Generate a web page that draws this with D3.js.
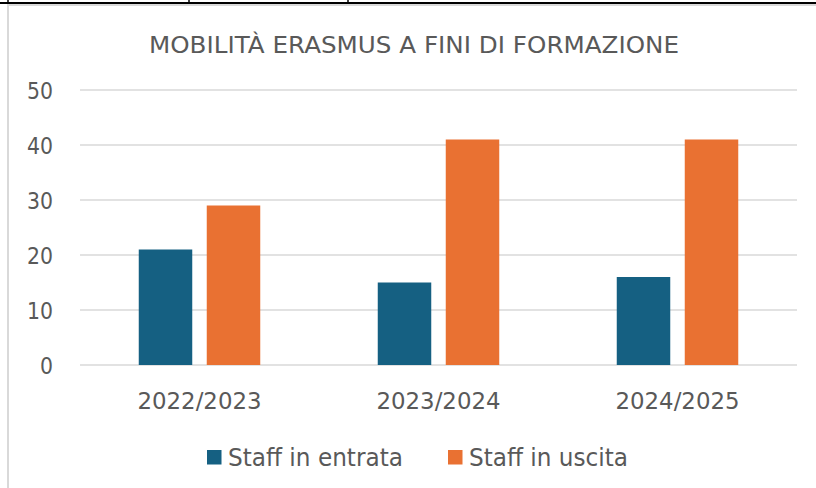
<!DOCTYPE html>
<html>
<head>
<meta charset="utf-8">
<script src="https://cdn.jsdelivr.net/npm/d3@7"></script>
<style>
  body { margin: 0; background: #fff; }
  text { font-family: "DejaVu Sans", Verdana, sans-serif; fill: #595959; }
</style>
</head>
<body>
<div id="chart"></div>
<script>
// data
var years = ['2022/2023', '2023/2024', '2024/2025'];
var seriesNames = ['Staff in entrata', 'Staff in uscita'];
var entrata = [21, 15, 16];
var uscita = [29, 41, 41];
var yTicks = [0, 10, 20, 30, 40, 50];

var width = 816, height = 488;
var colors = ['#156082', '#E97132'];

var svg = d3.select('#chart').append('svg')
    .attr('width', width)
    .attr('height', height);

// table border remains at the top of the page
svg.append('line')
    .attr('x1', 0).attr('x2', width)
    .attr('y1', 3).attr('y2', 3)
    .attr('stroke', '#000').attr('stroke-width', 2);
[8, 189, 348].forEach(function(x){
  svg.append('line')
    .attr('x1', x).attr('x2', x)
    .attr('y1', 0).attr('y2', 3)
    .attr('stroke', '#000').attr('stroke-width', 1.5);
});

// chart frame
svg.append('rect')
    .attr('x', 8).attr('y', 5)
    .attr('width', width + 10).attr('height', height + 10)
    .attr('fill', '#fff')
    .attr('stroke', '#d9d9d9').attr('stroke-width', 2);

//scales
var x0 = d3.scaleBand()
    .domain(years)
    .range([80, 797]);

var y = d3.scaleLinear()
    .domain([0, 50])
    .range([365, 90]);

//gridlines
svg.selectAll('.grid')
    .data(yTicks)
  .enter().append('line')
    .attr('class', 'grid')
    .attr('x1', 80).attr('x2', 797)
    .attr('y1', function(d){ return y(d); })
    .attr('y2', function(d){ return y(d); })
    .attr('stroke', '#d9d9d9')
    .attr('stroke-width', 1.5);

//y axis labels
var yAxis = d3.axisLeft(y).tickValues(yTicks).tickSize(0).tickPadding(0);
var gy = svg.append('g')
    .attr('transform', 'translate(53,0)')
    .call(yAxis);
gy.select('.domain').remove();
gy.selectAll('text')
    .attr('font-size', 23.5)
    .attr('font-family', '"DejaVu Sans", Verdana, sans-serif')
    .attr('fill', '#595959')
    .attr('dy', '0.36em')
    .attr('textLength', function(d){ return String(d).length * 13; })
    .attr('lengthAdjust', 'spacingAndGlyphs');

//x axis labels
var xAxis = d3.axisBottom(x0).tickSize(0).tickPadding(0);
var gx = svg.append('g')
    .attr('transform', 'translate(0,365)')
    .call(xAxis);
gx.select('.domain').remove();
gx.selectAll('text')
    .attr('font-size', 23.5)
    .attr('font-family', '"DejaVu Sans", Verdana, sans-serif')
    .attr('fill', '#595959')
    .attr('y', 44)
    .attr('dy', 0)
    .attr('textLength', 124)
    .attr('lengthAdjust', 'spacingAndGlyphs');

//bars
var barW = 53.5, gap = 14.5;
var series = [entrata, uscita];
series.forEach(function(vals, i){
  svg.selectAll('.bar' + i)
      .data(vals)
    .enter().append('rect')
      .attr('class', 'bar' + i)
      .attr('x', function(d, j){
        var c = x0(years[j]) + x0.bandwidth() / 2;
        return i === 0 ? c - gap / 2 - barW : c + gap / 2;
      })
      .attr('y', function(d){ return y(d); })
      .attr('width', barW)
      .attr('height', function(d){ return y(0) - y(d); })
      .attr('fill', colors[i]);
});

//title
svg.append('text')
    .attr('x', 414)
    .attr('y', 53)
    .attr('text-anchor', 'middle')
    .attr('font-size', 23.5)
    .attr('textLength', 530)
    .attr('lengthAdjust', 'spacingAndGlyphs')
    .text('MOBILITÀ ERASMUS A FINI DI FORMAZIONE');

//legend
var legendX = [207, 448], legendW = [175, 159];
seriesNames.forEach(function(name, i){
  var g = svg.append('g').attr('transform', 'translate(' + legendX[i] + ',0)');
  g.append('rect')
      .attr('x', 0).attr('y', 450)
      .attr('width', 14.5).attr('height', 14.5)
      .attr('fill', colors[i]);
  g.append('text')
      .attr('x', 21).attr('y', 465.5)
      .attr('font-size', 24)
      .attr('textLength', legendW[i])
      .attr('lengthAdjust', 'spacingAndGlyphs')
      .text(name);
});
</script>
</body>
</html>
